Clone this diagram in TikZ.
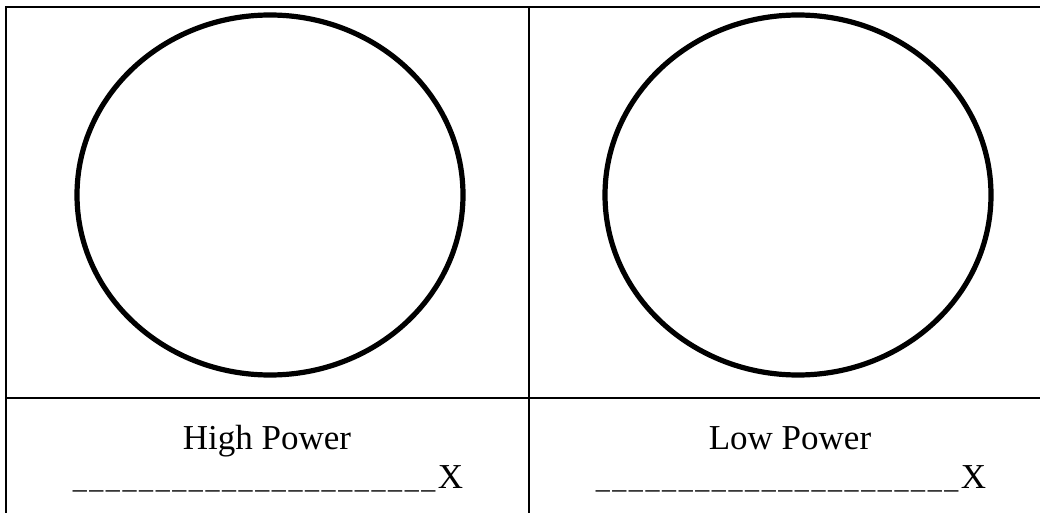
\documentclass[tikz,border=0pt]{standalone}
\usepackage{fontspec}
\setmainfont{Liberation Serif}
\usepackage{tikz}
\usetikzlibrary{positioning,shapes.geometric}

\newcommand{\gapbar}{{\fontsize{28}{30}\selectfont\_}\kern2.6pt}
\newcommand{\blankline}{\foreach \i in {1,...,22}{\gapbar}X}

\begin{document}
\begin{tikzpicture}[
  x=1pt, y=-1pt,
  font=\fontsize{35}{40}\selectfont,
  grid/.style={line width=2.3pt},
  ring/.style={draw, ellipse, line width=5.2pt, minimum width=386pt, minimum height=360pt, inner sep=0pt},
  label/.style={anchor=base, inner sep=0pt}
]
\useasboundingbox (0,0) rectangle (1040,513);
% table lines
\draw[grid] (1040,7) -- (6,7) -- (6,513);
\draw[grid] (529,7) -- (529,513);
\draw[grid] (6,398) -- (1040,398);
% circles
\node[ring] (highring) at (270,195) {};
\node[ring] (lowring) at (798,195) {};
% captions
\node[label] (hp) at (267,449) {High Power};
\node[label] (lp) at (790,449) {Low Power};
\node[label] (hpline) at (268,488) {\blankline};
\node[label] (lpline) at (791,488) {\blankline};
\end{tikzpicture}
\end{document}
